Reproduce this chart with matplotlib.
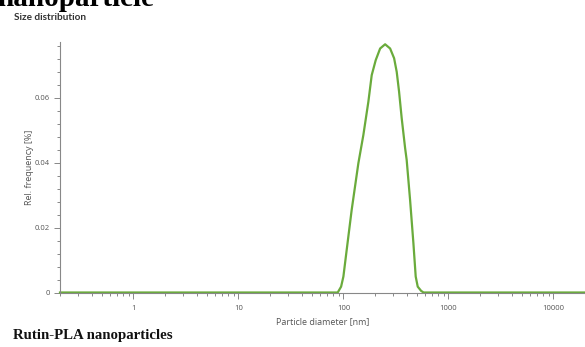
import numpy as np
import matplotlib.pyplot as plt
from matplotlib.ticker import MultipleLocator, LogLocator, FixedLocator

# size distribution
diameter_nm = [0.2, 1, 10, 50, 88.3, 95.1, 100, 107.5, 119.9, 138.9, 155.0,
               172.9, 186.1, 203.1, 223.8, 249.7, 278.6, 304.1, 322.0, 339.1,
               359.0, 386.9, 400.6, 431.6, 464.2, 488.3, 510.5, 550, 580,
               1000, 10000, 20000]
rel_freq = [0, 0, 0, 0, 0, 0.0018, 0.0049, 0.0131, 0.0254, 0.0398, 0.0485,
            0.0587, 0.0669, 0.0715, 0.0751, 0.0764, 0.0751, 0.0721, 0.0679,
            0.0618, 0.0537, 0.0445, 0.0408, 0.0285, 0.0152, 0.0049, 0.0018,
            0.0005, 0, 0, 0, 0]

x_ticks = [1, 10, 100, 1000, 10000]
x_ticklabels = ['1', '10', '100', '1000', '10000']
y_ticks = [0, 0.02, 0.04, 0.06]
y_ticklabels = ['0', '0.02', '0.04', '0.06']

grey = '#555555'
fig = plt.figure(figsize=(5.85, 3.47), dpi=100)
ax = fig.add_axes([60/585, 54.5/347, 525/585, 250.5/347])

ax.plot(diameter_nm, rel_freq, color='#6aab3c', lw=1.6, clip_on=False,
        solid_joinstyle='round')

ax.set_xscale('log')
ax.set_xlim(0.2, 20000)
ax.set_ylim(0, 0.0771)

ax.xaxis.set_major_locator(FixedLocator(x_ticks))
ax.set_xticklabels(x_ticklabels)
ax.xaxis.set_minor_locator(LogLocator(base=10, subs=np.arange(2, 10)))
ax.set_yticks(y_ticks)
ax.set_yticklabels(y_ticklabels)
ax.yaxis.set_minor_locator(MultipleLocator(0.004))

for s in ['top', 'right']:
    ax.spines[s].set_visible(False)
for s in ['left', 'bottom']:
    ax.spines[s].set_color('#888888')
    ax.spines[s].set_linewidth(0.8)
ax.tick_params(which='both', colors='#888888', labelcolor=grey, labelsize=5.5,
               width=0.7)
ax.tick_params(which='major', length=4)
ax.tick_params(which='minor', length=2.5)
ax.tick_params(axis='x', which='major', pad=5)

ax.set_xlabel('Particle diameter [nm]', fontsize=6.5, color=grey, labelpad=4,
              family='Open Sans')
ax.set_ylabel('Rel. frequency [%]', fontsize=6.5, color=grey, labelpad=0,
              family='Open Sans')
for lab in ax.get_xticklabels() + ax.get_yticklabels():
    lab.set_family('Open Sans')

fig.text(14/585, 1 - 18/347, 'Size distribution', fontsize=7.2,
         fontweight='bold', color='#333333', family='Lato', va='center')
fig.text(13/585, 1 - 338.5/347, 'Rutin-PLA nanoparticles', fontsize=10.7,
         fontweight='bold', color='#111111', family='Liberation Serif',
         va='baseline')
# caption of the figure above, cut by the top edge
fig.text(-3/585, 1 - 6/347, 'nanoparticle', fontsize=21, fontweight='bold',
         color='black', family='Liberation Serif', va='baseline')

fig.savefig('out.png', dpi=100, facecolor='white')
